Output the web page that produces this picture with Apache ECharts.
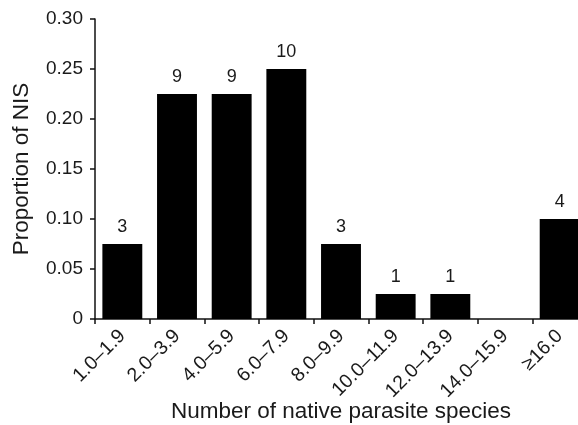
<!DOCTYPE html>
<html>
<head>
<meta charset="utf-8">
<script src="https://cdn.jsdelivr.net/npm/echarts@6/dist/echarts.min.js"></script>
<style>
html,body{margin:0;padding:0;background:#fff;}
#chart{width:578px;height:425px;}
</style>
</head>
<body>
<div id="chart"></div>
<script>
const categories = ['1.0–1.9','2.0–3.9','4.0–5.9','6.0–7.9','8.0–9.9','10.0–11.9','12.0–13.9','14.0–15.9','≥16.0'];
const proportions = [0.075, 0.225, 0.225, 0.25, 0.075, 0.025, 0.025, 0, 0.1];
const counts = ['3','9','9','10','3','1','1','','4'];
const yTickLabels = ['0','0.05','0.10','0.15','0.20','0.25','0.30'];

const FONT = '"Liberation Sans", Arial, Helvetica, sans-serif';
const chart = echarts.init(document.getElementById('chart'), null, {renderer:'canvas'});
chart.setOption({
  animation: false,
  backgroundColor: '#fff',
  grid: {left: 95, right: -9, top: 19, bottom: 106, containLabel: false, outerBoundsMode: 'none'},
  xAxis: {
    type: 'category',
    data: categories,
    boundaryGap: true,
    name: 'Number of native parasite species',
    nameLocation: 'middle',
    nameGap: 81,
    nameMoveOverlap: false,
    nameTextStyle: {fontFamily: FONT, fontSize: 22.5, color: '#1a1a1a'},
    axisLine: {lineStyle: {color: '#111', width: 1.5}},
    axisTick: {show: true, alignWithLabel: false, length: 5, lineStyle: {color: '#111', width: 1.5}},
    axisLabel: {rotate: 45, margin: 14, fontFamily: FONT, fontSize: 19.5, color: '#1a1a1a', interval: 0}
  },
  yAxis: {
    type: 'value',
    min: 0, max: 0.30, interval: 0.05,
    name: 'Proportion of NIS',
    nameLocation: 'middle',
    nameGap: 62,
    nameMoveOverlap: false,
    nameTextStyle: {fontFamily: FONT, fontSize: 22.5, color: '#1a1a1a'},
    splitLine: {show: false},
    axisLine: {show: true, lineStyle: {color: '#111', width: 1.5}},
    axisTick: {show: true, length: 5, lineStyle: {color: '#111', width: 1.5}},
    axisLabel: {margin: 12, fontFamily: FONT, fontSize: 19, color: '#1a1a1a',
      formatter: (v, i) => yTickLabels[i]}
  },
  series: [{
    type: 'bar',
    data: proportions,
    barCategoryGap: '27%',
    itemStyle: {color: '#000'},
    label: {
      show: true, position: 'top', distance: 8,
      fontFamily: FONT, fontSize: 18, color: '#1a1a1a',
      formatter: p => counts[p.dataIndex]
    }
  }]
});
</script>
</body>
</html>
